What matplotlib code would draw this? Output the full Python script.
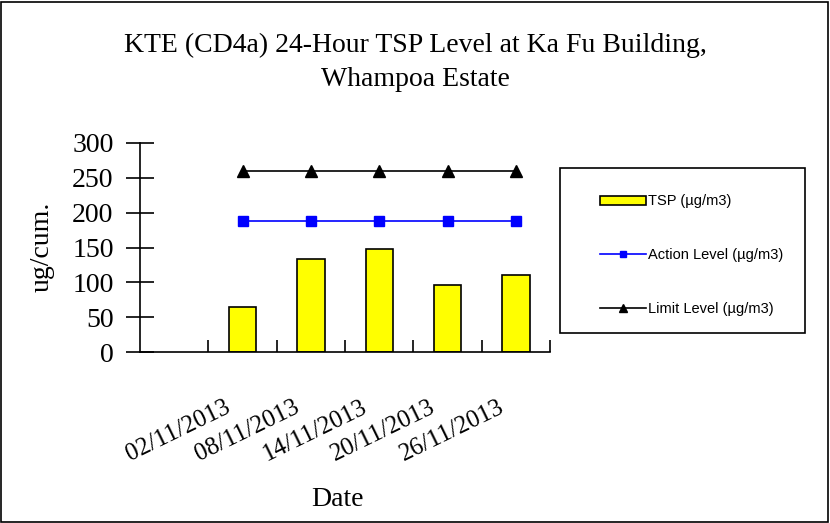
import matplotlib
matplotlib.use("Agg")
import matplotlib.pyplot as plt
from matplotlib.patches import Rectangle
from matplotlib.lines import Line2D
import matplotlib.transforms as mtransforms

dates = ["", "02/11/2013", "08/11/2013", "14/11/2013", "20/11/2013", "26/11/2013"]
tsp = [None, 64, 134, 148, 96, 111]
action = [None, 188, 188, 188, 188, 188]
limit = [None, 260, 260, 260, 260, 260]
title = "KTE (CD4a) 24-Hour TSP Level at Ka Fu Building,\nWhampoa Estate"

W, H = 830, 523
fig = plt.figure(figsize=(W / 100, H / 100), dpi=100)
serif = "Liberation Serif"

ax = fig.add_axes([140 / W, 1 - 352 / H, 410 / W, 209 / H])
x = list(range(len(dates)))
bx = [i for i, v in zip(x, tsp) if v is not None]
bv = [v for v in tsp if v is not None]
ax.bar(bx, bv, width=0.4, color="#FFFF00", edgecolor="black", linewidth=1.2, zorder=2)
ax_x = [i for i, v in zip(x, action) if v is not None]
ax.plot(ax_x, [v for v in action if v is not None], color="#0000FF", marker="s",
        markersize=7, linewidth=1.2, zorder=3)
lx = [i for i, v in zip(x, limit) if v is not None]
ax.plot(lx, [v for v in limit if v is not None], color="black", marker="^",
        markersize=8, linewidth=1.2, zorder=3)

ax.set_xlim(-0.5, len(dates) - 0.5)
ax.set_ylim(0, 300)
ax.set_yticks(range(0, 301, 50))
ax.set_xticks([i + 0.5 for i in range(len(dates))], minor=False)
ax.set_xticklabels([])
ax.set_xticks(x, minor=True)
ax.set_xticklabels(dates, minor=True)
ax.tick_params(axis="x", which="major", direction="in", length=9, width=1.2)
ax.tick_params(axis="x", which="minor", length=0, pad=0, labelsize=18)
ax.tick_params(axis="y", direction="inout", length=20, width=1.2, labelsize=20, pad=9)
for lab in ax.get_xticklabels(minor=True):
    lab.set_fontfamily(serif)
    lab.set_rotation(26)
    lab.set_ha("right")
    lab.set_va("top")
    lab.set_rotation_mode("anchor")
    lab.set_transform(lab.get_transform() + mtransforms.ScaledTranslation(-18 / 100, -44 / 100, fig.dpi_scale_trans))
for lab in ax.get_yticklabels():
    lab.set_fontfamily(serif)
for s in ["top", "right"]:
    ax.spines[s].set_visible(False)
ax.spines["left"].set_linewidth(1.2)
ax.spines["bottom"].set_linewidth(1.2)
ax.set_facecolor("none")

lines = title.split("\n")
fig.text(415 / W, 1 - 52 / H, lines[0], ha="center", va="baseline",
         fontsize=20, fontfamily=serif)
fig.text(415 / W, 1 - 86 / H, lines[1], ha="center", va="baseline",
         fontsize=20, fontfamily=serif)
fig.text(42 / W, 1 - 247 / H, "ug/cum.", rotation=90, ha="center", va="center",
         fontsize=20, fontfamily=serif)
fig.text(337 / W, 1 - 506 / H, "Date", ha="center", va="baseline",
         fontsize=20, fontfamily=serif)

# legend box
fig.patches.append(Rectangle((560 / W, 1 - 333 / H), 245 / W, 165 / H,
                             transform=fig.transFigure, fill=False,
                             edgecolor="black", linewidth=1.2))
handles = [
    Rectangle((0, 0), 1, 1, facecolor="#FFFF00", edgecolor="black", linewidth=1.2),
    Line2D([], [], color="#0000FF", marker="s", markersize=5, linewidth=1.2),
    Line2D([], [], color="black", marker="^", markersize=6, linewidth=1.2),
]
labels = ["TSP (\u00b5g/m3)", "Action Level (\u00b5g/m3)", "Limit Level (\u00b5g/m3)"]
leg = fig.legend(handles, labels, loc="upper left", bbox_to_anchor=(593 / W, 1 - 187 / H),
                 frameon=False, labelspacing=2.72, handlelength=3.1,
                 handleheight=0.6, handletextpad=0.15, borderpad=0,
                 prop={"family": "Liberation Sans", "size": 10.5})

# outer border
fig.patches.append(Rectangle((1 / W, 1 / H), (W - 3) / W, (H - 3) / H,
                             transform=fig.transFigure, fill=False,
                             edgecolor="black", linewidth=1.2))

fig.savefig("out.png", dpi=100)
